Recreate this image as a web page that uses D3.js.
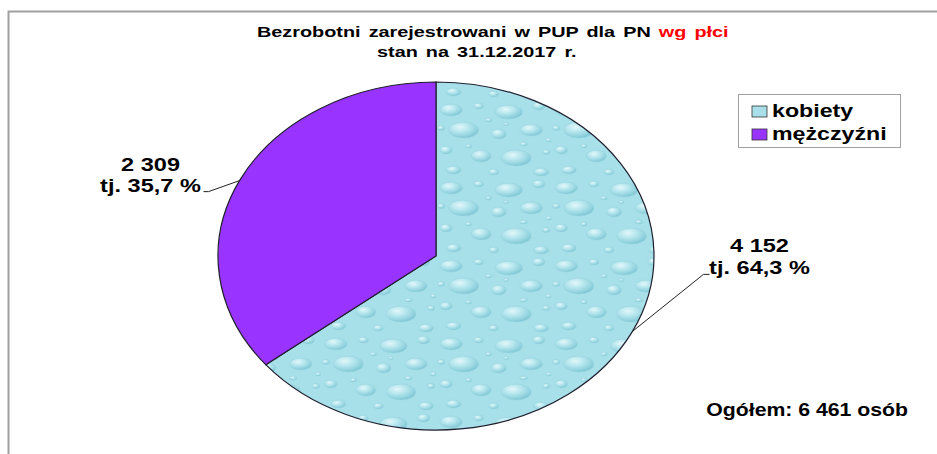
<!DOCTYPE html>
<html>
<head>
<meta charset="utf-8">
<script src="https://cdn.jsdelivr.net/npm/d3@7"></script>
<style>
  body { margin: 0; background: #fff; }
  svg { display: block; font-family: "Liberation Sans", Arial, sans-serif; }
</style>
</head>
<body>
<div id="chart"></div>
<script>
// data
let categories = ["kobiety", "mężczyźni"];
let values = [4152, 2309];
let percentLabels = ["64,3", "35,7"];
let colors = ["url(#drops)", "#9933ff"];
let legendColors = ["#a9dfe8", "#9933ff"];
let totalLabel = "Ogółem: 6 461 osób";

let width = 937, height = 454;
let cx = 436, cy = 256, rx = 218, ry = 174;

let svg = d3.select("#chart").append("svg")
    .attr("width", width)
    .attr("height", height);

// text that is drawn a bit wider, like in the original
function wideText(x, y, sx, size, anchor) {
    return svg.append("g")
        .attr("transform", "translate(" + x + "," + y + ") scale(" + sx + ",1)")
        .append("text")
        .attr("text-anchor", anchor || "start")
        .attr("font-size", size)
        .attr("font-weight", "bold");
}

// water drop texture
let defs = svg.append("defs");
let grad = defs.append("radialGradient").attr("id", "drop")
    .attr("cx", "38%").attr("cy", "32%").attr("r", "70%");
grad.append("stop").attr("offset", "0%").attr("stop-color", "#f2fcfe");
grad.append("stop").attr("offset", "35%").attr("stop-color", "#c2ecf2");
grad.append("stop").attr("offset", "80%").attr("stop-color", "#8dd0dc");
grad.append("stop").attr("offset", "100%").attr("stop-color", "#6fbccb");

let pat = defs.append("pattern").attr("id", "drops")
    .attr("patternUnits", "userSpaceOnUse")
    .attr("width", 92).attr("height", 78);
pat.append("rect").attr("width", 92).attr("height", 78).attr("fill", "#a8e0e9");
let drops = [
    [12, 10, 9, 6], [34, 6, 4, 3], [58, 12, 11, 7], [82, 6, 5, 4], [22, 30, 12, 8],
    [50, 34, 6, 5], [76, 30, 9, 6], [8, 50, 5, 4], [36, 56, 8, 6], [64, 58, 12, 8],
    [88, 52, 3, 2.5], [14, 70, 6, 4], [46, 72, 4, 3], [84, 72, 6, 4], [42, 20, 2.5, 2],
    [4, 28, 3, 2.5], [70, 44, 3, 2], [26, 46, 2.5, 2], [56, 24, 2, 1.6], [90, 40, 2.5, 2]
];
pat.selectAll("ellipse").data(drops).enter().append("ellipse")
    .attr("cx", d => d[0]).attr("cy", d => d[1])
    .attr("rx", d => d[2]).attr("ry", d => d[3])
    .attr("fill", "url(#drop)")
    .attr("stroke", "#93d3de").attr("stroke-width", 0.6)
    .attr("opacity", 0.8);

// frame
svg.append("path")
    .attr("d", "M8.5," + height + "V11.5H" + width)
    .attr("fill", "none")
    .attr("stroke", "#a0a0a0")
    .attr("stroke-width", 2);

// title
let title = wideText(257, 37, 1.28, 15.5).attr("word-spacing", 2);
title.append("tspan").text("Bezrobotni zarejestrowani w PUP dla PN  ");
title.append("tspan").attr("fill", "#ff0000").text("wg płci");
wideText(377, 57, 1.28, 15.5).attr("word-spacing", 2).text("stan na 31.12.2017 r.");

// pie
let pie = d3.pie().sort(null).value(d => d);
let arcs = pie(values);
let arc = d3.arc().innerRadius(0).outerRadius(ry);

let g = svg.append("g")
    .attr("transform", "translate(" + cx + "," + cy + ") scale(" + (rx / ry) + ",1)");

g.selectAll("path").data(arcs).enter().append("path")
    .attr("d", arc)
    .attr("fill", (d, i) => colors[i])
    .attr("stroke", "#1e1e2e")
    .attr("stroke-width", 1.2)
    .attr("vector-effect", "non-scaling-stroke");

// labels with leader lines, offsets from the point on the pie edge
let labelOffsets = [
    { elbow: [71, -57], end: [77, -57], text: [127, -79] },
    { elbow: [-31, 11], end: [-36, 11], text: [-89, -10] }
];
arcs.forEach(function(d, i) {
    let a = (d.startAngle + d.endAngle) / 2;
    let px = cx + Math.sin(a) * rx;
    let py = cy - Math.cos(a) * ry;
    let o = labelOffsets[i];
    svg.append("path")
        .attr("d", "M" + px + "," + py + "L" + (px + o.elbow[0]) + "," + (py + o.elbow[1]) +
            "L" + (px + o.end[0]) + "," + (py + o.end[1]))
        .attr("fill", "none")
        .attr("stroke", "#222")
        .attr("stroke-width", 1);
    let t = wideText(px + o.text[0], py + o.text[1], 1.24, 19, "middle");
    t.append("tspan").attr("x", 0).attr("y", 0)
        .text(d3.format(",")(values[i]).replace(/,/g, " "));
    t.append("tspan").attr("x", 0).attr("y", 21.5)
        .text("tj. " + percentLabels[i] + " %");
});

// legend
let legend = svg.append("g").attr("transform", "translate(738,94)");
legend.append("rect")
    .attr("x", 0.5).attr("y", 0.5)
    .attr("width", 162).attr("height", 53)
    .attr("fill", "#fff")
    .attr("stroke", "#a0a0a0");
let li = legend.selectAll(".item").data(categories).enter().append("g")
    .attr("class", "item")
    .attr("transform", (d, i) => "translate(14," + (12 + i * 23) + ")");
li.append("rect")
    .attr("width", 15).attr("height", 11)
    .attr("fill", (d, i) => legendColors[i])
    .attr("stroke", "#333").attr("stroke-width", 0.8);
li.append("g")
    .attr("transform", "translate(20,10.5) scale(1.22,1)")
    .append("text")
    .attr("font-size", 19).attr("font-weight", "bold")
    .text(d => d);

// total
wideText(908, 416, 1.18, 18, "end").text(totalLabel);
</script>
</body>
</html>
